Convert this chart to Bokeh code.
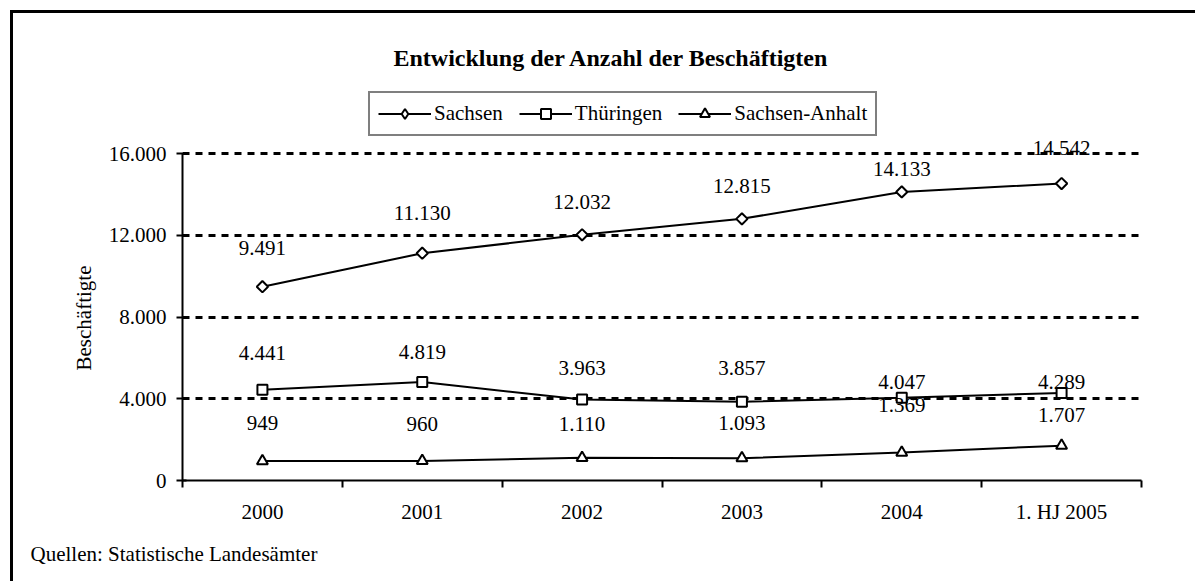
from bokeh.plotting import figure
from bokeh.models import ColumnDataSource, FixedTicker, Legend, LegendItem, Range1d, Title
from bokeh.core.properties import value
from bokeh.embed import file_html
from bokeh.resources import INLINE
import math

# ---- data ----
categories = ["2000", "2001", "2002", "2003", "2004", "1. HJ 2005"]
sachsen = [9491, 11130, 12032, 12815, 14133, 14542]
thueringen = [4441, 4819, 3963, 3857, 4047, 4289]
sachsen_anhalt = [949, 960, 1110, 1093, 1369, 1707]
series_names = ["Sachsen", "Thüringen", "Sachsen-Anhalt"]
y_ticks = [0, 4000, 8000, 12000, 16000]
y_tick_labels = ["0", "4.000", "8.000", "12.000", "16.000"]
title_text = "Entwicklung der Anzahl der Beschäftigten"
y_axis_title = "Beschäftigte"
source_note = "Quellen: Statistische Landesämter"

# ---- styling: data-label vertical offsets in px (negative = up) ----
label_dy = [
    [-39, -40, -33, -33, -23, -36],
    [-37, -30, -32, -34, -16, -11],
    [-38, -37, -34, -35, -48, -31],
]

FONT = "Liberation Serif"
FS = "21px"

xs = [i + 0.5 for i in range(len(categories))]

# headroom above the top tick holds the legend (inside the frame)
p = figure(width=1185, height=571,
           x_range=Range1d(0, len(categories)), y_range=Range1d(0, 19100),
           output_backend="svg", toolbar_location=None,
           min_border_left=169, min_border_right=57,
           min_border_top=77, min_border_bottom=104,
           outline_line_color=None,
           background_fill_color="white", border_fill_color="white")
p.styles = {"border-top": "3px solid black", "border-left": "3px solid black",
            "margin-left": "10px", "margin-top": "10px"}

# title
p.title.text = title_text
p.title.align = "left"
p.title.offset = 211
p.title.text_font = FONT
p.title.text_font_size = "24px"
p.title.text_font_style = "bold"
p.title.text_color = "black"
p.title.standoff = 40

# x axis: labels at centers, ticks at category boundaries (minor ticks)
xa = p.xaxis[0]
xa.ticker = FixedTicker(ticks=xs, minor_ticks=list(range(len(categories) + 1)))
xa.major_label_overrides = {x: c for x, c in zip(xs, categories)}
xa.axis_line_width = 2
xa.axis_line_color = "black"
xa.major_tick_out = 0
xa.major_tick_in = 0
xa.minor_tick_out = 7
xa.minor_tick_in = 0
xa.minor_tick_line_width = 2
xa.minor_tick_line_color = "black"
xa.major_label_standoff = 12
xa.major_label_text_font = FONT
xa.major_label_text_font_size = FS
xa.major_label_text_color = "black"

# y axis
ya = p.yaxis[0]
ya.ticker = FixedTicker(ticks=y_ticks)
ya.bounds = (y_ticks[0], y_ticks[-1])
ya.major_label_overrides = {t: l for t, l in zip(y_ticks, y_tick_labels)}
ya.axis_line_width = 2
ya.axis_line_color = "black"
ya.major_tick_out = 6
ya.major_tick_in = 4
ya.major_tick_line_width = 2
ya.major_tick_line_color = "black"
ya.minor_tick_out = 0
ya.minor_tick_in = 0
ya.major_label_standoff = 10
ya.major_label_text_font = FONT
ya.major_label_text_font_size = FS
ya.major_label_text_color = "black"

# y axis title (left panel, positioned along the tick span)
y_title = Title(text=y_axis_title, align="left", offset=110,
                text_font=FONT, text_font_size=FS, text_font_style="normal",
                text_color="black", standoff=20)
p.add_layout(y_title, "left")

p.xgrid.visible = False
p.ygrid.grid_line_color = "black"
p.ygrid.grid_line_width = 3
p.ygrid.grid_line_dash = "7 6"

markers = [("square", 8, math.pi / 4), ("square", 10, 0), ("triangle", 11, 0)]
legend_markers = ["diamond", "square", "triangle"]
all_vals = [sachsen, thueringen, sachsen_anhalt]
items = []
for name, vals, (mk, sz, ang), lmk, dys in zip(series_names, all_vals, markers,
                                               legend_markers, label_dy):
    src = ColumnDataSource(dict(x=xs, y=vals, dy=dys,
                                lab=[f"{v:,}".replace(",", ".") for v in vals]))
    rl = p.line("x", "y", source=src, line_color="black", line_width=2)
    rm = p.scatter("x", "y", source=src, marker=mk, size=sz, angle=ang,
                   fill_color="white", line_color="black", line_width=2)
    p.text("x", "y", text="lab", y_offset="dy", source=src,
           text_align="center", text_baseline="middle",
           text_font=value(FONT), text_font_size=FS, text_color="black")
    if ang:
        # legend-only marker (legend samples are drawn unrotated)
        rleg = p.scatter("x", "y", source=src, marker=lmk, size=sz,
                         fill_color="white", line_color="black", line_width=2,
                         visible=False)
        items.append(LegendItem(label=name, renderers=[rl, rleg]))
    else:
        items.append(LegendItem(label=name, renderers=[rl, rm]))

legend = Legend(items=items, orientation="horizontal", location=(186, 344),
                border_line_color="black", border_line_width=2,
                background_fill_color="white", background_fill_alpha=1,
                inactive_fill_alpha=0,
                padding=8, margin=0, spacing=16, glyph_width=53, glyph_height=25,
                label_standoff=3, label_text_font=FONT, label_text_font_size=FS,
                label_text_color="black", label_height=25)
p.add_layout(legend, "center")

src_title = Title(text=source_note, align="left", offset=-152,
                  text_font=FONT, text_font_size=FS, text_font_style="normal",
                  text_color="black", standoff=26)
p.add_layout(src_title, "below")

open("out.html", "w").write(file_html(p, INLINE))
